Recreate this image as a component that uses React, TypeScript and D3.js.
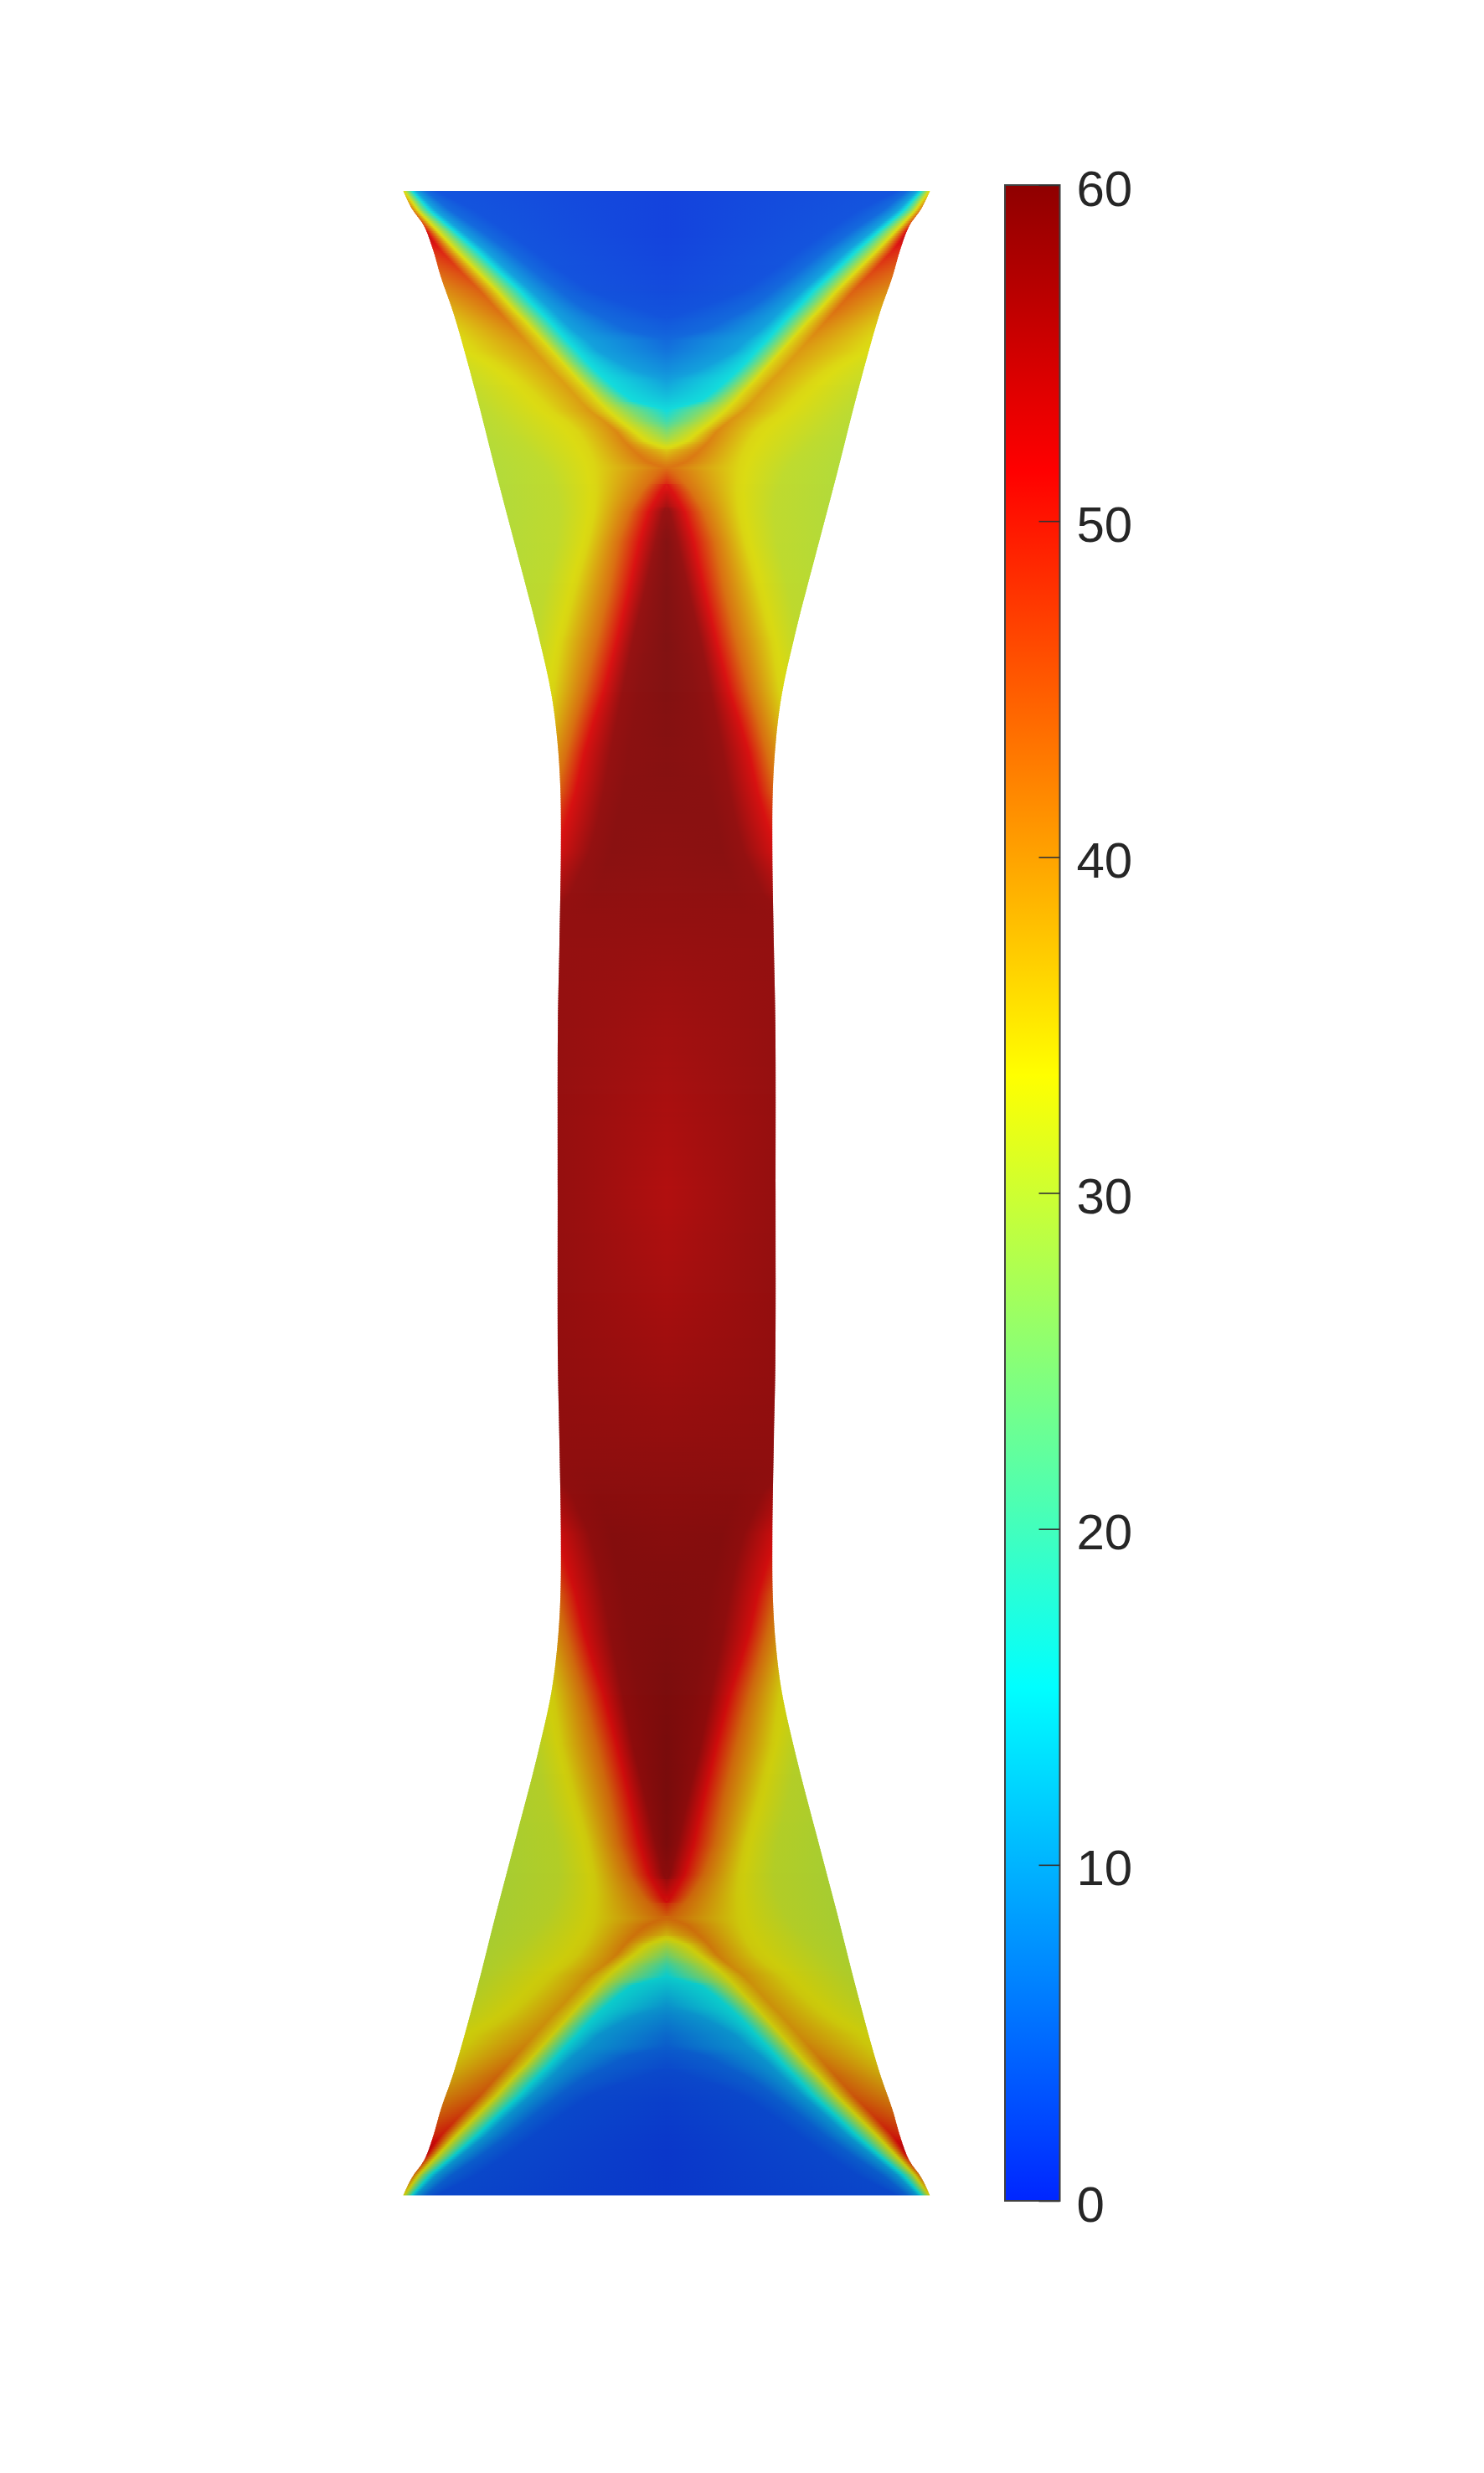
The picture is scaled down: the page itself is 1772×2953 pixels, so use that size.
import { useEffect, useRef } from "react";
import * as d3 from "d3";

// specimen coordinates in mm: depth runs from +100 (top grip) through 0 to -100, width from the axis
const outlineDepth = [100, 98.2, 96.5, 94.1, 91.5, 87.6, 79.7, 71.8, 64, 56.1, 49.8, 45.1, 40.4, 34, 24.6, 16.8, 0];
const outlineWidth = [26.28, 25.4, 24.2, 23.3, 22.55, 21.2, 19, 17, 14.95, 12.9, 11.5, 10.9, 10.6, 10.55, 10.7, 10.85, 10.87];

const rowDepth = [100, 98, 96, 94, 92, 90, 89, 88, 87, 86, 85, 84, 83, 82, 81, 80, 79, 78, 77, 76, 75, 74, 73, 72, 70, 68, 65, 60, 55, 50, 47, 44, 40, 37, 34, 30, 27, 20, 10, 0];
const axisValue = [1.5, 1.5, 1.5, 1.7, 2, 2.3, 2.6, 2.9, 3.4, 4.2, 5.1, 6, 7.3, 8.5, 10, 11.8, 13.6, 15.5, 19.5, 25, 30, 36, 40.5, 44.5, 52.5, 58, 59.7, 60, 60, 59.8, 59.6, 59.4, 59.2, 59, 58.7, 58.3, 58, 57, 55.8, 54.8];

// where each level crosses a station, as distance from the axis (mm); negative = not on this station.
// Short lists stop at the station where the level leaves the plot, "skip" pads the start.
const skip = (n: number) => new Array(n).fill(-1);
const level3 = [23, 19, 16, 13.2, 10.5, 7.5, 5, 2, -1];
const level5 = [24, 21.5, 18.5, 15.7, 13.2, 10.6, 9.3, 7.7, 5.6, 3.6, -0.5, -1];
const level10 = [25, 23, 20.5, 18, 15.8, 13.5, 12.4, 11.3, 10.3, 9.2, 7.8, 6.8, 5, 3, -0.1, -1];
const level15 = [25.4, 23.6, 21.2, 18.9, 16.8, 14.6, 13.7, 12.7, 11.7, 10.8, 9.9, 8.9, 8, 7, 5.9, 4.7, 3.3, -0.5, -2];
const level25 = [25.8, 24.3, 22, 20, 17.9, 15.9, 15, 14, 13, 12.1, 11.2, 10.3, 9.4, 8.4, 7.4, 6.3, 5.1, 3.4, 2, -0.1, -1];
const level34in = [26.2, 24.8, 22.9, 21, 19, 17, 16.1, 15.2, 14.2, 13.3, 12.4, 11.5, 10.6, 9.7, 8.8, 7.8, 6.9, 5.9, 4.7, 3.4, 2.2, -0.5, -2];
const crestAt = [26.3, 25.4, 24.2, 22.5, 20.6, 18.6, 17.7, 16.8, 15.9, 15, 14.1, 13.2, 12.3, 11.4, 10.4, 9.5, 8.6, 7.6, 6.2, 5, 4.2, 3.2, 2, -0.5, -1];
const crestValue = [33, 45, 56, 50, 47, 44.5, 43.7, 43, 42, 41, 40.2, 39.5, 39.2, 39, 39, 39, 39, 39.5, 40, 41, 41.5, 42, 42.5, 43];
const ringAt = [...skip(25), -0.5, 0.5, 1.2, 2, 2.8, 3.3, 3.8, 4.3, 5, 5.5, 7, 8, 8, 8, 8];
const ringValue = [...new Array(35).fill(59), 58.5, 58.1, 57.6, 57.2, 57];
const level58 = [...skip(24), -1, 0.3, 1.1, 2.2, 3.4, 4.4, 5, 5.6, 6.3, 6.9, 7.7, 9.5, 12, 13, 13, 13].slice(0, 40);
const level51 = [...skip(23), -1, 0.6, 1.8, 2.7, 3.8, 5, 6.3, 7.3, 8.2, 9.1, 10, 11, 14, 20, 24, 24, 24];
const level43 = [...skip(22), -1, 0.9, 2.5, 3.7, 4.8, 5.8, 7, 8.3, 9.2, 10, 11, 12.5, 14, 17, 22, 25, 25, 25];
const level34out = [38, 37, 36, 34, 31, 28, 26, 24, 22.5, 21.2, 20, 19, 17.2, 15.7, 14.5, 13.4, 12.4, 11.4, 10, 8.9, 8.2, 7.7, 7.3, 7.1, 7, 7.2, 7.8, 9.2, 10.5, 11.3, 12, 13, 14, 15, 16, 18, 23, 26, 26, 26];
const level31 = [40, 40, 40, 40, 40, 40, 40, 40, 40, 32, 28, 25, 23.5, 22, 20.7, 19.5, 18.5, 17.5, 16.5, 15.5, 14.5, 13.5, 12.5, 11.8, 11, 10.7, 11, 12.2, 13.2, 15, 16, 17, 18, 19, 20, 22, 24, 27, 27, 27];
const level29 = [50, 50, 50, 50, 50, 50, 50, 50, 50, 42, 38, 34, 32, 30, 28, 26, 25, 24];

// colour bar
const colorTicks = [0, 10, 20, 30, 40, 50, 60];
const jetKnots = [-2.7, 15.3, 33.5, 51.5, 60];
const jetColors = ["#0000ff", "#00ffff", "#ffff00", "#ff0000", "#8f0000"];

const WIDTH = 1772;
const HEIGHT = 2953;
const FONT = "'Liberation Sans', Arial, sans-serif";

export default function App() {
  const svgRef = useRef<SVGSVGElement | null>(null);

  useEffect(() => {
    const svg = d3.select(svgRef.current);
    svg.selectAll("*").remove();

    const x = d3.scaleLinear().domain([-26.28, 26.28]).range([481.5, 1110.5]);
    const y = d3.scaleLinear().domain([100, -100]).range([228, 2621.5]);
    const jet = d3.scaleLinear<string>().domain(jetKnots).range(jetColors).clamp(true);
    // the surface was lit, so the plot is a little duller than the bar and dims downward
    const gain = d3.scaleLinear().domain([100, -100]).range([0.79, 0.75]);
    const ambient = d3.scaleLinear().domain([100, -100]).range([20, 10]);

    const lit = (v: number, depth: number) => {
      const c = d3.rgb(jet(v));
      const k = gain(depth);
      const a = ambient(depth);
      return d3.rgb(c.r * k + a, c.g * k + a, c.b * k + a).formatHex();
    };

    // short lists keep their last entry down to the final station
    const station = (col: number[]) => {
      const full = rowDepth.map((_, i) => (i < col.length ? col[i] : col[col.length - 1]));
      return d3.scaleLinear().domain(rowDepth).range(full);
    };
    const axisAt = station(axisValue);
    const crestV = station(crestValue);
    const ringV = station(ringValue);
    const columns: [d3.ScaleLinear<number, number>, (d: number) => number][] = [
      [station(level3), () => 3],
      [station(level5), () => 5],
      [station(level10), () => 10],
      [station(level15), () => 15.3],
      [station(level25), () => 25],
      [station(level34in), () => 34],
      [station(crestAt), (d) => crestV(d)],
      [station(ringAt), (d) => ringV(d)],
      [station(level58), () => 58],
      [station(level51), () => 51.5],
      [station(level43), () => 43],
      [station(level34out), () => 34],
      [station(level31), () => 31],
      [station(level29), () => 28.5],
    ];

    const defs = svg.append("defs");
    const allDepth = [...outlineDepth, ...outlineDepth.slice(0, -1).reverse().map((d) => -d)];
    const allWidth = [...outlineWidth, ...outlineWidth.slice(0, -1).reverse()];
    const outlinePath = d3
      .area<number>()
      .x0((_, i) => x(-allWidth[i]))
      .x1((_, i) => x(allWidth[i]))
      .y((d) => y(d))
      .curve(d3.curveCatmullRom.alpha(0.5))(allDepth);
    defs.append("clipPath").attr("id", "specimen").append("path").attr("d", outlinePath);

    const span = 50; // mm covered by every row gradient
    const clipped = svg.append("g").attr("clip-path", "url(#specimen)");
    const half = clipped.append("g").attr("id", "half");
    const step = 2;
    const x0 = x(0);
    const x1 = x(span);
    const top = y(100);
    const bottom = y(-100);
    let id = 0;

    for (let py = top; py < bottom; py += step) {
      const signed = y.invert(py + step / 2);
      const d = Math.abs(signed);
      const stops: { u: number; v: number }[] = [{ u: 0, v: axisAt(d) }];
      for (const [pos, val] of columns) {
        const u = pos(d);
        if (u > stops[stops.length - 1].u) stops.push({ u, v: val(d) });
      }
      const gid = `row-${id++}`;
      const g = defs
        .append("linearGradient")
        .attr("id", gid)
        .attr("gradientUnits", "userSpaceOnUse")
        .attr("x1", x0)
        .attr("x2", x1)
        .attr("y1", 0)
        .attr("y2", 0);
      const addStop = (u: number, v: number) => {
        g.append("stop").attr("offset", u / span).attr("stop-color", lit(v, signed));
      };
      stops.forEach((s, i) => {
        addStop(s.u, s.v);
        const next = stops[i + 1];
        if (!next) return;
        // keep the jet corners inside a segment
        const inner = jetKnots.filter((k) => (k > s.v && k < next.v) || (k < s.v && k > next.v));
        if (s.v > next.v) inner.reverse();
        inner.forEach((k) => addStop(s.u + ((k - s.v) / (next.v - s.v)) * (next.u - s.u), k));
      });
      half
        .append("rect")
        .attr("x", x0)
        .attr("y", py)
        .attr("width", x(27) - x0)
        .attr("height", step + 0.5)
        .attr("shape-rendering", "crispEdges")
        .attr("fill", `url(#${gid})`);
    }

    clipped
      .append("use")
      .attr("href", "#half")
      .attr("transform", `translate(${2 * x0},0) scale(-1,1)`);

    // colour bar
    const barLeft = 1200;
    const barRight = 1265.5;
    const bar = d3.scaleLinear().domain([0, 60]).range([2628, 221]);
    const barGrad = defs
      .append("linearGradient")
      .attr("id", "bar")
      .attr("gradientUnits", "userSpaceOnUse")
      .attr("x1", 0)
      .attr("x2", 0)
      .attr("y1", bar(0))
      .attr("y2", bar(60));
    [0, ...jetKnots.filter((k) => k > 0)].forEach((k) => {
      barGrad.append("stop").attr("offset", k / 60).attr("stop-color", jet(k));
    });
    svg
      .append("rect")
      .attr("x", barLeft)
      .attr("y", bar(60))
      .attr("width", barRight - barLeft)
      .attr("height", bar(0) - bar(60))
      .attr("fill", "url(#bar)")
      .attr("stroke", "#404040")
      .attr("stroke-width", 2);

    const axis = svg
      .append("g")
      .attr("transform", `translate(${barRight},0)`)
      .call(d3.axisRight(bar).tickValues(colorTicks).tickSizeInner(-25).tickSizeOuter(0).tickPadding(20));
    axis.select(".domain").remove();
    axis.selectAll(".tick line").attr("stroke", "#333").attr("stroke-width", 1.6);
    axis
      .selectAll(".tick text")
      .attr("dy", "0.4em")
      .attr("fill", "#262626")
      .attr("font-family", FONT)
      .attr("font-size", 60);
  }, []);

  return (
    <svg
      ref={svgRef}
      width={WIDTH}
      height={HEIGHT}
      style={{ position: "absolute", left: 0, top: 0, background: "#fff" }}
    />
  );
}
